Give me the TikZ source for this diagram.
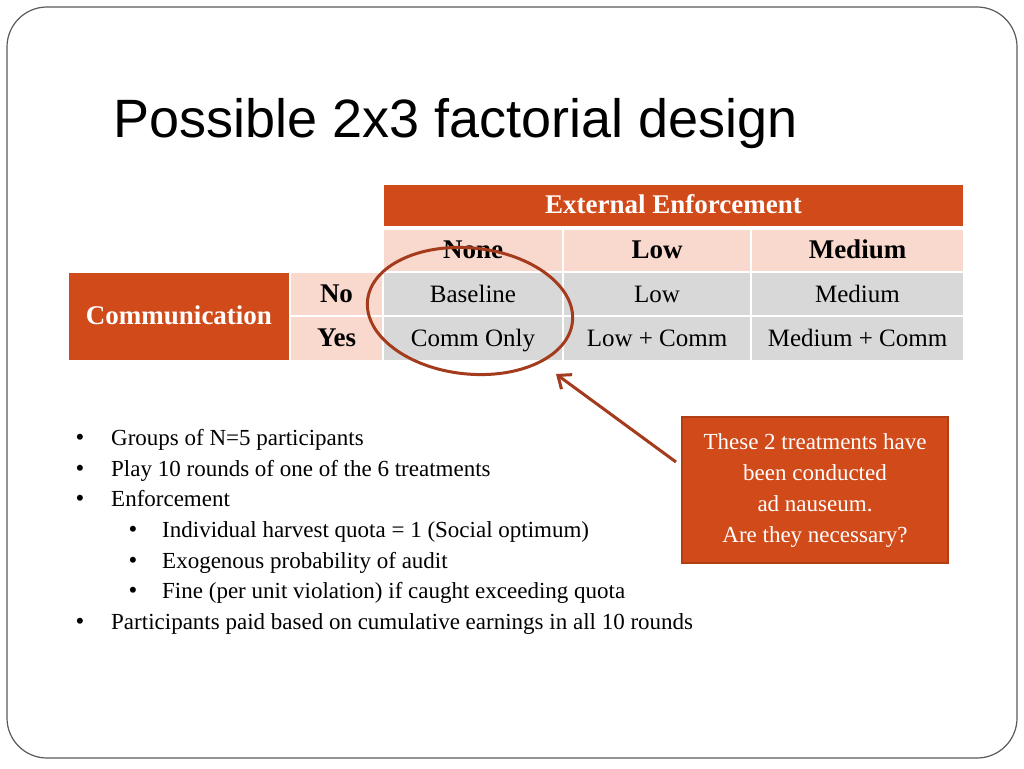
\documentclass[tikz,border=0pt]{standalone}
\usepackage{fontspec}
\setmainfont{Liberation Serif}
\newfontfamily\titlefont{Liberation Sans}
\usetikzlibrary{shapes.geometric,arrows.meta}
\definecolor{orng}{HTML}{D14A1A}
\definecolor{orngdark}{HTML}{B23E16}
\definecolor{pinkc}{HTML}{F9D8CE}
\definecolor{greyc}{HTML}{D8D8D8}
\definecolor{ringc}{HTML}{A33B1C}
\definecolor{framec}{HTML}{5A5A5A}
\tikzset{
  cell/.style={rectangle, inner sep=0pt, outer sep=0pt, text height=18pt, text depth=1.5pt},
  hdrcell/.style={cell, fill=orng, text=white, font=\fontsize{27}{30}\selectfont\bfseries},
  subcell/.style={cell, fill=pinkc, text=black, font=\fontsize{27}{30}\selectfont\bfseries},
  datacell/.style={cell, fill=greyc, text=black, font=\fontsize{25}{30}\selectfont},
  btext/.style={anchor=base west, inner sep=0pt, font=\fontsize{23}{28}\selectfont},
  bdot/.style={anchor=base, inner sep=0pt, font=\fontsize{25}{28}\selectfont},
  callbox/.style={rectangle, fill=orng, draw=orngdark, line width=2pt, text=white,
    align=center, font=\fontsize{23}{31}\selectfont, inner sep=0pt},
  ring/.style={ellipse, draw=ringc, line width=3pt, inner sep=0pt},
  pointer/.style={draw=ringc, line width=3pt, -{Straight Barb[length=11pt,width=18pt,line width=3pt]}}
}
\begin{document}
\begin{tikzpicture}[x=1pt,y=-1pt]
\useasboundingbox (0,0) rectangle (1024,768);
\fill[white] (0,0) rectangle (1024,768);
\draw[framec, line width=1.2pt, rounded corners=40pt] (7,7) rectangle (1017,758);

% title
\node[anchor=base west, inner sep=0pt, font=\titlefont\fontsize{54}{60}\selectfont] (title) at (113,137) {Possible 2x3 factorial design};

% table header
\node[hdrcell, minimum width=579pt, minimum height=41pt] (hdr) at (673.5,205.5) {External Enforcement};
\node[subcell, minimum width=178pt, minimum height=41pt] (none) at (473,250.5) {None};
\node[subcell, minimum width=186pt, minimum height=41pt] (low) at (657,250.5) {Low};
\node[subcell, minimum width=211pt, minimum height=41pt] (med) at (857.5,250.5) {Medium};
\node[hdrcell, minimum width=220pt, minimum height=87pt] (comm) at (179,316.5) {Communication};
\node[subcell, minimum width=91pt, minimum height=42pt] (no) at (336.5,294) {No};
\node[subcell, minimum width=91pt, minimum height=43pt] (yes) at (336.5,338.5) {Yes};
\node[datacell, minimum width=178pt, minimum height=42pt] (base) at (473,294) {Baseline};
\node[datacell, minimum width=186pt, minimum height=42pt] (lowno) at (657,294) {Low};
\node[datacell, minimum width=211pt, minimum height=42pt] (medno) at (857.5,294) {Medium};
\node[datacell, minimum width=178pt, minimum height=43pt] (commonly) at (473,338.5) {Comm Only};
\node[datacell, minimum width=186pt, minimum height=43pt] (lowyes) at (657,338.5) {Low + Comm};
\node[datacell, minimum width=211pt, minimum height=43pt] (medyes) at (857.5,338.5) {Medium + Comm};

% ellipse highlight
\node[ring, minimum width=206pt, minimum height=126pt, rotate=-6] (circ) at (470,311) {};

% callout
\node[callbox, minimum width=266pt, minimum height=146pt] (callout) at (815,490) {\rule{0pt}{6pt}These 2 treatments have\\been conducted\\ad nauseum.\\Are they necessary?};
\coordinate (tip) at (556,374);
\draw[pointer] ([xshift=-5pt,yshift=28pt]callout.west) -- (tip);

% bullets
\node[bdot] (d1) at (80,445) {•};
\node[btext] (b1) at (111,445) {Groups of N=5 participants};
\node[bdot] (d2) at (80,476) {•};
\node[btext] (b2) at (111,476) {Play 10 rounds of one of the 6 treatments};
\node[bdot] (d3) at (80,506) {•};
\node[btext] (b3) at (111,506) {Enforcement};
\node[bdot] (d4) at (133,537) {•};
\node[btext] (b4) at (162,537) {Individual harvest quota = 1 (Social optimum)};
\node[bdot] (d5) at (133,568) {•};
\node[btext] (b5) at (162,568) {Exogenous probability of audit};
\node[bdot] (d6) at (133,598) {•};
\node[btext] (b6) at (162,598) {Fine (per unit violation) if caught exceeding quota};
\node[bdot] (d7) at (80,629) {•};
\node[btext] (b7) at (111,629) {Participants paid based on cumulative earnings in all 10 rounds};
\end{tikzpicture}
\end{document}
